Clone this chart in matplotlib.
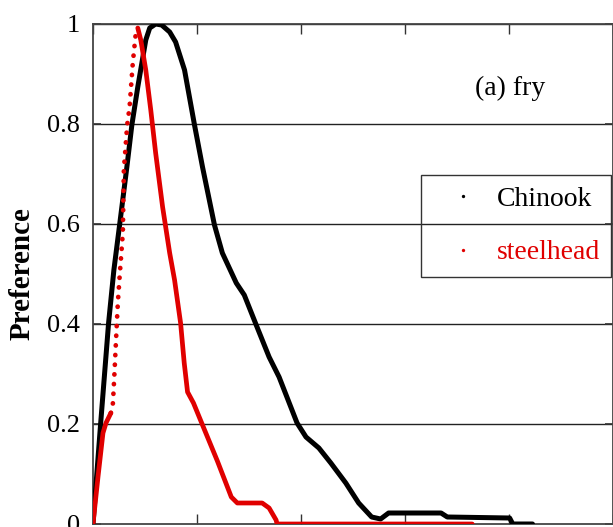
import matplotlib
matplotlib.use("Agg")
import matplotlib.pyplot as plt
from matplotlib.lines import Line2D

# Chinook fry preference curve
chinook_x = [0.0, 0.074, 0.150, 0.201, 0.256, 0.326, 0.374, 0.431, 0.508, 0.546, 0.603,
             0.661, 0.738, 0.795, 0.881, 0.977, 1.054, 1.169, 1.245, 1.379, 1.456, 1.571,
             1.695, 1.791, 1.964, 2.050, 2.174, 2.289, 2.433, 2.557, 2.682, 2.768, 2.845,
             3.350, 3.410, 4.010, 4.040, 4.230]
chinook_y = [0.0, 0.202, 0.402, 0.508, 0.598, 0.714, 0.798, 0.874, 0.968, 0.992, 1.0,
             0.998, 0.984, 0.964, 0.908, 0.798, 0.714, 0.598, 0.542, 0.482, 0.458, 0.398,
             0.334, 0.294, 0.202, 0.174, 0.152, 0.122, 0.082, 0.042, 0.014, 0.010, 0.022,
             0.022, 0.014, 0.012, 0.0, 0.0]

# Steelhead fry preference curve
steel_x = [0.0, 0.048, 0.096, 0.125, 0.172, 0.192, 0.208, 0.223, 0.239, 0.256, 0.287,
           0.297, 0.329, 0.352, 0.383, 0.412, 0.431, 0.460, 0.508, 0.556, 0.603, 0.670,
           0.738, 0.785, 0.843, 0.878, 0.910, 0.967, 1.054, 1.197, 1.331, 1.389, 1.628,
           1.695, 1.762, 1.772, 3.650]
steel_y = [0.0, 0.094, 0.182, 0.202, 0.222, 0.242, 0.308, 0.374, 0.442, 0.494, 0.582,
           0.708, 0.798, 0.834, 0.922, 0.982, 0.992, 0.968, 0.908, 0.828, 0.742, 0.634,
           0.542, 0.488, 0.402, 0.322, 0.264, 0.242, 0.198, 0.126, 0.054, 0.042, 0.042,
           0.032, 0.008, 0.0, 0.0]

series_names = ["Chinook", "steelhead"]
series_colors = ["black", "#e00000"]
yticks = [0, 0.2, 0.4, 0.6, 0.8, 1.0]
ytick_labels = ["0", "0.2", "0.4", "0.6", "0.8", "1"]
xticks = [0, 1, 2, 3, 4, 5]
panel_label = "(a) fry"
ylabel = "Preference"

plt.rcParams['font.family'] = ['Liberation Serif', 'DejaVu Serif']

fig = plt.figure(figsize=(6.13, 5.27), dpi=100)
ax = fig.add_axes([93/613, 3/527, 519.5/613, 500/527])

ax.set_xlim(0, 5)
ax.set_ylim(0, 1)

for y in yticks[1:]:
    ax.axhline(y, color='#222222', lw=1.0, zorder=1)

# Chinook curve
ax.plot(chinook_x, chinook_y, color=series_colors[0], lw=3.6, solid_joinstyle='round',
        solid_capstyle='round', zorder=3)

# Steelhead: dotted look on the steep rising part, solid elsewhere
k0, k1 = 4, 16
ax.plot(steel_x[:k0 + 1], steel_y[:k0 + 1], color=series_colors[1], lw=3.4,
        solid_capstyle='round', zorder=4)
ax.plot(steel_x[k0:k1 + 1], steel_y[k0:k1 + 1], color=series_colors[1], lw=3.4,
        linestyle=(0, (0.05, 2.0)), dash_capstyle='round', zorder=4)
ax.plot(steel_x[k1:], steel_y[k1:], color=series_colors[1], lw=3.4,
        solid_joinstyle='round', solid_capstyle='round', zorder=4)

ax.set_yticks(yticks)
ax.set_yticklabels(ytick_labels)
ax.set_xticks(xticks)
ax.set_xticklabels([])
ax.tick_params(axis='x', direction='in', top=True, bottom=True, length=7.5,
               width=1.0, color='#333333')
ax.tick_params(axis='y', direction='in', left=True, right=True, length=6,
               width=1.2, color='#333333', labelsize=19, pad=9.5)
for s in ax.spines.values():
    s.set_color('#444444')
    s.set_linewidth(1.3)

ax.set_ylabel(ylabel, fontsize=21, fontweight='bold', labelpad=8)

ax.text(4.01, 0.872, panel_label, fontsize=20, ha='center', va='center')

handles = [Line2D([], [], linestyle='none', marker='o', markersize=2.4,
                  color=c, markeredgewidth=0) for c in series_colors]
leg = ax.legend(handles, series_names, loc='upper left',
                bbox_to_anchor=(328/519.5, 349/500), borderaxespad=0,
                fontsize=20, frameon=True, fancybox=False,
                labelspacing=1.0, borderpad=0.42,
                handlelength=2.2, handletextpad=0.1, labelcolor=series_colors)
frame = leg.get_frame()
frame.set_facecolor('none')
frame.set_edgecolor('#333333')
frame.set_linewidth(1.0)
frame.set_alpha(None)

fig.savefig("out.png", dpi=100)
